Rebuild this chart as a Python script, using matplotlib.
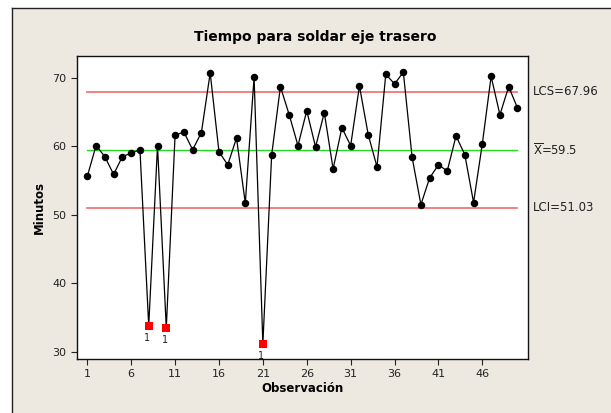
"""
Grafica de control I para el tiempo de soldadura del eje trasero.
"""
import numpy as np
import matplotlib
matplotlib.use("Agg")
import matplotlib.pyplot as plt
from matplotlib.patches import Rectangle
from matplotlib.lines import Line2D

# datos
observacion = list(range(1, 51))
minutos = [55.6, 60.1, 58.5, 55.9, 58.5, 59.0, 59.5, 33.8, 60.1, 33.5,
           61.6, 62.1, 59.5, 62.0, 70.7, 59.2, 57.3, 61.2, 51.7, 70.1,
           31.2, 58.7, 68.7, 64.6, 60.1, 65.2, 59.9, 64.9, 56.7, 62.7,
           60.1, 68.8, 61.7, 57.0, 70.5, 69.1, 70.8, 58.4, 51.5, 55.4,
           57.3, 56.4, 61.5, 58.8, 51.8, 60.4, 70.2, 64.6, 68.7, 65.6]
fuera_control = [8, 10, 21]
lcs = 67.96
media = 59.5
lci = 51.03
xticks = [1, 6, 11, 16, 21, 26, 31, 36, 41, 46]
yticks = [30, 40, 50, 60, 70]

BG = "#EDE9E0"

fig = plt.figure(figsize=(6.11, 4.13), dpi=100)
fig.patch.set_facecolor("white")
x0, y0 = 11.5 / 611, 1 - 7.5 / 413
fig.patches.append(Rectangle((x0, 0), 1 - x0, y0, transform=fig.transFigure,
                             facecolor=BG, edgecolor="none", zorder=-10))
fig.lines.append(Line2D([x0, 1], [y0, y0], transform=fig.transFigure,
                        color="#222222", lw=1.0))
fig.lines.append(Line2D([x0, x0], [0, y0], transform=fig.transFigure,
                        color="#222222", lw=1.0))

ax = fig.add_axes([77 / 611, 54 / 413, 451 / 611, 303 / 413])
ax.set_facecolor("white")

x = np.array(observacion)
y = np.array(minutos)
ax.plot([x[0], x[-1]], [lcs, lcs], color="#F26B6B", lw=1.2, zorder=1)
ax.plot([x[0], x[-1]], [lci, lci], color="#F26B6B", lw=1.2, zorder=1)
ax.plot([x[0], x[-1]], [media, media], color="#22DD22", lw=1.0, zorder=1)

ax.plot(x, y, color="black", lw=0.9, zorder=2)
normal = [i for i in observacion if i not in fuera_control]
ax.plot(normal, [minutos[i - 1] for i in normal], "o", color="black",
        markersize=5.4, markeredgewidth=0, zorder=3)
ax.plot(fuera_control, [minutos[i - 1] for i in fuera_control], "s",
        color="#FF0000", markersize=5.4, markeredgewidth=0, zorder=3)
for i in fuera_control:
    ax.annotate("1", (i, minutos[i - 1]), xytext=(-1, -5),
                textcoords="offset points", ha="center", va="top",
                fontsize=7, color="#222222")

ax.set_xlim(-0.17, 51.2)
ax.set_ylim(28.98, 73.17)
ax.set_xticks(xticks)
ax.set_yticks(yticks)
ax.tick_params(direction="out", length=4, width=0.8, colors="#222222",
               labelsize=8)
for s in ax.spines.values():
    s.set_color("#111111")
    s.set_linewidth(1.0)

ax.set_xlabel("Observación", fontsize=8.5, fontweight="bold", labelpad=2)
ax.set_ylabel("Minutos", fontsize=8.5, fontweight="bold", labelpad=5)
fig.text(315 / 611, 1 - 37.5 / 413, "Tiempo para soldar eje trasero",
         ha="center", va="center", fontsize=10, fontweight="bold")

tr = ax.get_yaxis_transform()
ax.text(1.01, lcs, "LCS=67.96", transform=tr, va="center", ha="left",
        fontsize=8.5, color="#222222")
ax.text(1.01, media, r"$\overline{\mathrm{X}}$=59.5", transform=tr,
        va="center", ha="left", fontsize=8.5, color="#222222")
ax.text(1.01, lci, "LCI=51.03", transform=tr, va="center", ha="left",
        fontsize=8.5, color="#222222")

fig.savefig("out.png", dpi=100)
